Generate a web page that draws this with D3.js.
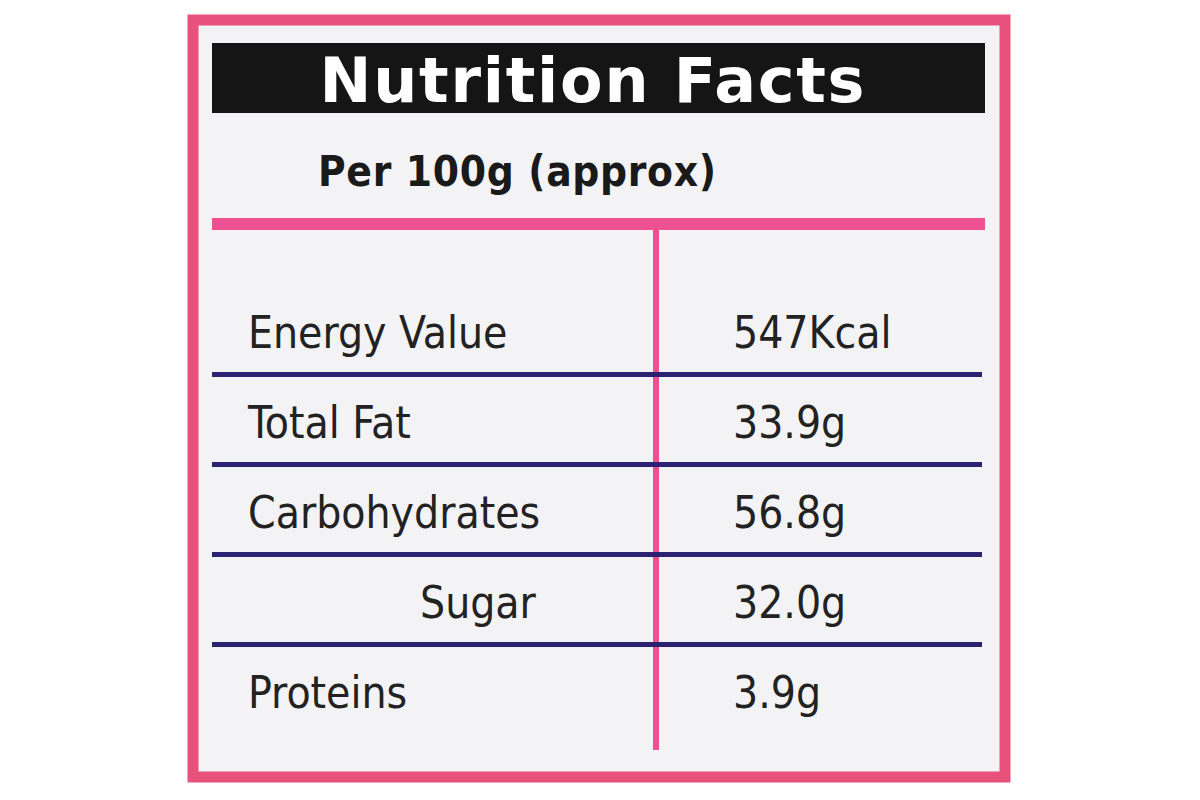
<!DOCTYPE html>
<html><head><meta charset="utf-8">
<script src="https://cdn.jsdelivr.net/npm/d3@7"></script>
<style>body{margin:0;background:#fff}</style>
</head><body><div id="app"></div>
<script>
const nutrients = ['Energy Value', 'Total Fat', 'Carbohydrates', 'Sugar', 'Proteins'];
const amounts = ['547Kcal', '33.9g', '56.8g', '32.0g', '3.9g'];
const indented = [false, false, false, true, false];
const title = 'Nutrition Facts';
const subtitle = 'Per 100g (approx)';

const width = 1200, height = 800;
const svg = d3.select('#app').append('svg').attr('width', width).attr('height', height);

// outer pink frame + panel
svg.append('rect').attr('x', 193).attr('y', 20).attr('width', 812).attr('height', 757)
	.attr('fill', '#f3f3f6').attr('stroke', '#e8517c').attr('stroke-width', 11);

// header bar
svg.append('rect').attr('x', 212).attr('y', 43).attr('width', 773).attr('height', 70).attr('fill', '#151515');
svg.append('text').attr('x', 592).attr('y', 102).attr('text-anchor', 'middle')
	.attr('fill', '#fff').attr('font-family', 'DejaVu Sans').attr('font-weight', 'bold')
	.attr('font-size', 62).attr('textLength', 545).text(title);
svg.append('text').attr('x', 318).attr('y', 186).attr('fill', '#1a1a1a')
	.attr('font-family', 'DejaVu Sans Condensed, DejaVu Sans').attr('font-weight', 'bold')
	.attr('font-size', 42).attr('textLength', 398).text(subtitle);

// pink rules
svg.append('rect').attr('x', 212).attr('y', 218).attr('width', 773).attr('height', 12).attr('fill', '#ef4f93');
svg.append('rect').attr('x', 653).attr('y', 230).attr('width', 6).attr('height', 520).attr('fill', '#ef4f93');

// rows
const y = d3.scaleBand().domain(nutrients).range([285, 735]);
const row = svg.selectAll('g.row').data(nutrients).join('g').attr('class', 'row')
	.attr('transform', d => `translate(0,${y(d)})`);

row.filter((d, i) => i < nutrients.length - 1).append('rect')
	.attr('x', 212).attr('y', y.bandwidth() - 3).attr('width', 770).attr('height', 5).attr('fill', '#2b2272');

const fontRow = 'Liberation Sans Narrow, DejaVu Sans Condensed, sans-serif';
row.append('text').attr('x', (d, i) => indented[i] ? 420 : 248).attr('y', y.bandwidth() - 27)
	.attr('font-family', fontRow).attr('font-size', 44).attr('fill', '#222').text(d => d);
row.append('text').attr('x', 733).attr('y', y.bandwidth() - 27)
	.attr('font-family', fontRow).attr('font-size', 44).attr('fill', '#222').text((d, i) => amounts[i]);
</script></body></html>
